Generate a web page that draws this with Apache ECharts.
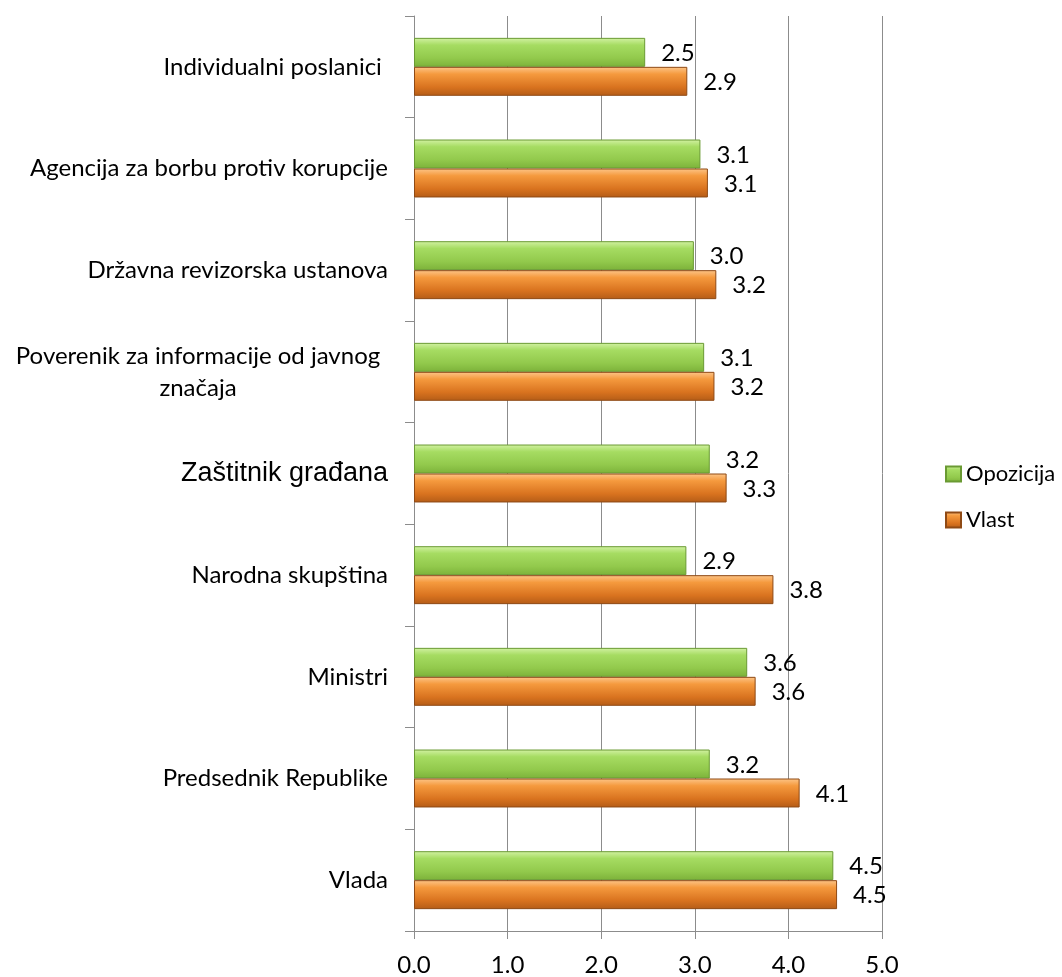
<!DOCTYPE html>
<html>
<head>
<meta charset="utf-8">
<script src="https://cdn.jsdelivr.net/npm/echarts@6/dist/echarts.min.js"></script>
<style>
  html, body { margin: 0; padding: 0; background: #fff; }
  #chart { width: 1062px; height: 977px; }
</style>
</head>
<body>
<div id="chart"></div>
<script>
// categories from bottom to top
var categories = [
    'Vlada',
    'Predsednik Republike',
    'Ministri',
    'Narodna skupština',
    'Zaštitnik građana',
    'Poverenik za informacije od javnog\nznačaja',
    'Državna revizorska ustanova',
    'Agencija za borbu protiv korupcije',
    'Individualni poslanici '
];
var opozicija = [4.48, 3.16, 3.56, 2.91, 3.16, 3.10, 2.99, 3.06, 2.47];
var vlast     = [4.52, 4.12, 3.65, 3.84, 3.34, 3.21, 3.23, 3.14, 2.92];
var xTicks = [0, 1, 2, 3, 4, 5];

var myChart = echarts.init(document.getElementById('chart'));

var greenFill = new echarts.graphic.LinearGradient(0, 0, 0, 1, [
    {offset: 0, color: '#d3f2a4'},
    {offset: 0.25, color: '#a6dc62'},
    {offset: 0.7, color: '#92c94c'},
    {offset: 1, color: '#7cb23a'}
]);
var orangeFill = new echarts.graphic.LinearGradient(0, 0, 0, 1, [
    {offset: 0, color: '#fdc68a'},
    {offset: 0.25, color: '#f59a3e'},
    {offset: 0.7, color: '#d9731f'},
    {offset: 1, color: '#b45c17'}
]);

var catData = categories.map(function (c) {
    if (c === 'Zaštitnik građana') {
        return {value: c, textStyle: {fontFamily: 'Liberation Sans', fontSize: 27}};
    }
    return c;
});

option = {
    animation: false,
    textStyle: {fontFamily: 'Lato'},
    grid: {left: 414, right: 180, top: 16, bottom: 46},
    legend: {
        orient: 'vertical',
        left: 940,
        top: 458,
        itemWidth: 15,
        itemHeight: 15,
        itemGap: 24,
        icon: 'rect',
        textStyle: {fontSize: 22, color: '#000', fontFamily: 'Lato'},
        data: ['Opozicija', 'Vlast']
    },
    xAxis: {
        type: 'value',
        min: xTicks[0],
        max: xTicks[xTicks.length - 1],
        interval: 1,
        axisLine: {show: true, lineStyle: {color: '#8c8c8c'}},
        axisTick: {show: true, length: 8, lineStyle: {color: '#8c8c8c'}},
        splitLine: {show: true, lineStyle: {color: '#8c8c8c'}},
        axisLabel: {
            fontSize: 24, color: '#000', margin: 22,
            formatter: function (v) { return v.toFixed(1); }
        }
    },
    yAxis: {
        type: 'category',
        data: catData,
        axisLine: {show: true, lineStyle: {color: '#8c8c8c'}},
        axisTick: {show: true, length: 9, inside: false, lineStyle: {color: '#8c8c8c'}},
        axisLabel: {
            fontSize: 24, color: '#000', margin: 26,
            formatter: function (v) {
                if (v.indexOf('\n') >= 0) {
                    return v.split('\n').map(function (l) { return '{c|' + l + '}'; }).join('\n');
                }
                return v;
            },
            rich: {
                c: {width: 380, align: 'center', fontSize: 24, fontFamily: 'Lato', color: '#000', lineHeight: 32}
            }
        }
    },
    series: [
        {
            name: 'Opozicija',
            type: 'bar',
            data: opozicija,
            barGap: '0%',
            barCategoryGap: '43%',
            itemStyle: {color: greenFill, borderColor: '#6a9a33', borderWidth: 1},
            label: {
                show: true, position: 'right', distance: 16,
                fontSize: 24, color: '#000', offset: [0, 1],
                formatter: function (p) { return p.value.toFixed(1); }
            }
        },
        {
            name: 'Vlast',
            type: 'bar',
            data: vlast,
            barGap: '0%',
            barCategoryGap: '43%',
            itemStyle: {color: orangeFill, borderColor: '#8f4a15', borderWidth: 1},
            label: {
                show: true, position: 'right', distance: 16,
                fontSize: 24, color: '#000', offset: [0, 1],
                formatter: function (p) { return p.value.toFixed(1); }
            }
        }
    ]
};

myChart.setOption(option);
</script>
</body>
</html>
